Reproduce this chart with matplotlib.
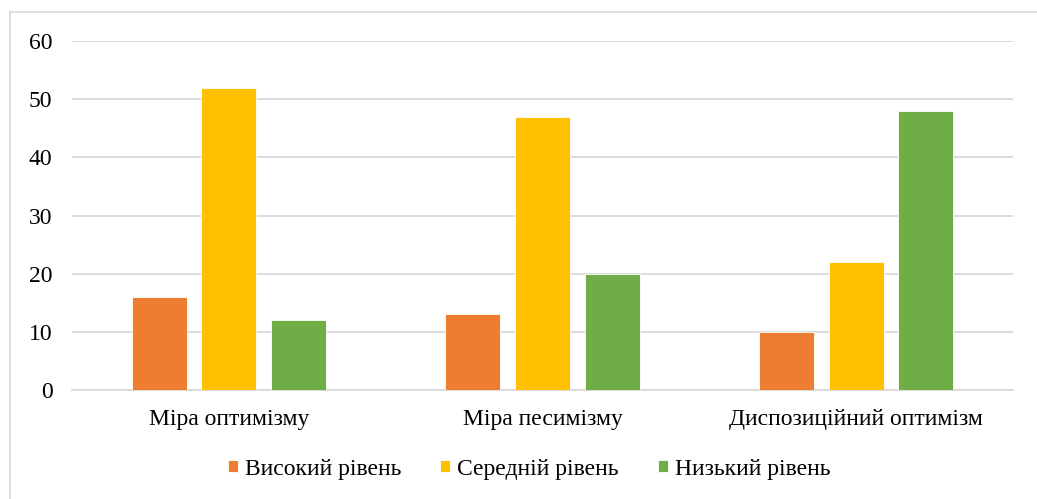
import matplotlib
matplotlib.use("Agg")
import matplotlib.pyplot as plt
import numpy as np
from matplotlib.lines import Line2D

categories = ["Міра оптимізму", "Міра песимізму", "Диспозиційний оптимізм"]
series_names = ["Високий рівень", "Середній рівень", "Низький рівень"]
high = [16, 13, 10]
medium = [52, 47, 22]
low = [12, 20, 48]
colors = ["#ED7D31", "#FFC000", "#70AD47"]
yticks = [0, 10, 20, 30, 40, 50, 60]

plt.rcParams['font.family'] = ['Liberation Serif', 'DejaVu Serif']

W, H = 1037, 499
fig = plt.figure(figsize=(W / 100, H / 100), dpi=100)
ax = fig.add_axes([72 / W, (H - 390) / H, (1013 - 72) / W, (390 - 41) / H])

x = np.arange(len(categories))
w = 0.175
pitch = 0.222
for i, (vals, name, c) in enumerate(zip([high, medium, low], series_names, colors)):
    ax.bar(x + (i - 1) * pitch, vals, width=w, color=c, label=name,
           edgecolor="white", linewidth=0.6, zorder=3)

ax.set_xlim(-0.5, 2.5)
ax.set_ylim(0, 60)
ax.set_yticks(yticks)
ax.set_xticks(x)
ax.set_xticklabels(categories, fontsize=17)
ax.tick_params(axis='y', labelsize=17, length=0, pad=14)
ax.tick_params(axis='x', length=0, pad=14)
ax.grid(axis='y', color="#D9D9D9", linewidth=1.3, zorder=0)
for s in ["top", "right", "left"]:
    ax.spines[s].set_visible(False)
ax.spines["bottom"].set_color("#D9D9D9")
ax.spines["bottom"].set_linewidth(1.3)

leg = fig.legend(loc="center", bbox_to_anchor=(529 / W, (H - 469) / H), ncol=3, frameon=False,
                 fontsize=17, handlelength=0.42, handleheight=0.42, handletextpad=0.3,
                 columnspacing=1.65)

# outer chart border (left and top edges visible)
fig.add_artist(Line2D([9.5 / W, 9.5 / W], [0, (H - 11) / H], transform=fig.transFigure,
                      color="#D9D9D9", linewidth=1.2))
fig.add_artist(Line2D([9.5 / W, 1], [(H - 11.5) / H, (H - 11.5) / H], transform=fig.transFigure,
                      color="#D9D9D9", linewidth=1.2))

fig.savefig("out.png", dpi=100)
